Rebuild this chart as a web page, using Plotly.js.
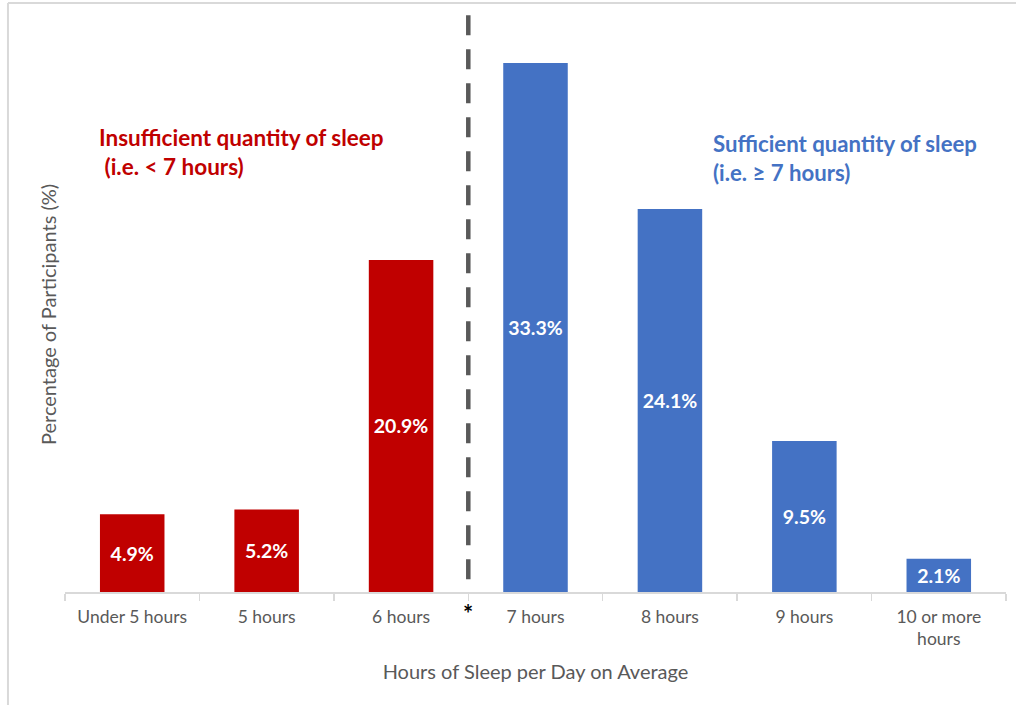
<!DOCTYPE html>
<html>
<head>
<meta charset="utf-8">
<script src="https://cdn.plot.ly/plotly-3.0.1.min.js"></script>
<style>
html,body{margin:0;padding:0;background:#fff;}
#chart{width:1016px;height:705px;}
</style>
</head>
<body>
<div id="chart"></div>
<script>
const categories = ["Under 5 hours", "5 hours", "6 hours", "7 hours", "8 hours", "9 hours", "10 or more<br>hours"];
const percentages = [4.9, 5.2, 20.9, 33.3, 24.1, 9.5, 2.1];
const sufficient = [false, false, false, true, true, true, true];

const RED = "#c00000", BLUE = "#4472c4", GREY = "#595959", AXIS = "#d9d9d9";
const FONT = "Lato, 'Open Sans', sans-serif";

const trace = {
  type: "bar",
  x: categories,
  y: percentages,
  marker: {color: sufficient.map(s => s ? BLUE : RED)},
  texttemplate: "%{y:.1f}%",
  textposition: "inside",
  insidetextanchor: "middle",
  constraintext: "none",
  textfont: {family: FONT, size: 19.5, color: "#ffffff", weight: "bold"},
  hoverinfo: "skip"
};

const layout = {
  width: 1016, height: 705,
  margin: {l: 65, r: 10, t: 10, b: 113},
  paper_bgcolor: "#ffffff", plot_bgcolor: "#ffffff",
  font: {family: FONT, color: GREY},
  showlegend: false,
  bargap: 0.52,
  xaxis: {
    type: "category",
    showline: true, linecolor: AXIS, linewidth: 1.5,
    ticks: "outside", tickson: "boundaries", ticklen: 7, tickcolor: AXIS, tickwidth: 1.5,
    tickfont: {family: FONT, size: 17.5, color: GREY},
    ticklabelstandoff: 8,
    showgrid: false, zeroline: false,
    title: {text: "Hours of Sleep per Day on Average", font: {family: FONT, size: 20, color: GREY}, standoff: 16}
  },
  yaxis: {
    range: [0, 36.63],
    showticklabels: false, showgrid: false, zeroline: false, showline: false, ticks: ""
  },
  shapes: [
    {type: "line", xref: "x", yref: "paper", x0: 2.5, x1: 2.5, y0: 0.022, y1: 1.003,
     line: {color: GREY, width: 4.5, dash: "20px,14px"}},
    {type: "line", xref: "paper", yref: "paper", x0: -0.0606, x1: 1.02, y0: 1.012, y1: 1.012,
     line: {color: AXIS, width: 2}},
    {type: "line", xref: "paper", yref: "paper", x0: -0.0606, x1: -0.0606, y0: 1.012, y1: -0.2,
     line: {color: AXIS, width: 2}}
  ],
  annotations: [
    {text: "Percentage of Participants (%)", xref: "paper", yref: "paper",
     x: -0.018, y: 0.476, xanchor: "center", yanchor: "middle", textangle: -90, showarrow: false,
     font: {family: FONT, size: 20, color: GREY}},
    {text: "Insufficient quantity of sleep<br> (i.e. < 7 hours)", xref: "paper", yref: "paper",
     x: 0.034, y: 0.756, xanchor: "left", yanchor: "middle", align: "left", showarrow: false,
     font: {family: FONT, size: 22.5, color: RED, weight: "bold"}},
    {text: "Sufficient quantity of sleep<br>(i.e. ≥ 7 hours)", xref: "paper", yref: "paper",
     x: 0.687, y: 0.745, xanchor: "left", yanchor: "middle", align: "left", showarrow: false,
     font: {family: FONT, size: 22.2, color: BLUE, weight: "bold"}},
    {text: "*", xref: "x", yref: "paper", x: 2.5, y: -0.037, xanchor: "center", yanchor: "middle",
     showarrow: false, font: {family: FONT, size: 24, color: "#000000", weight: "bold"}}
  ]
};

Plotly.newPlot("chart", [trace], layout, {displayModeBar: false, staticPlot: true});
</script>
</body>
</html>
